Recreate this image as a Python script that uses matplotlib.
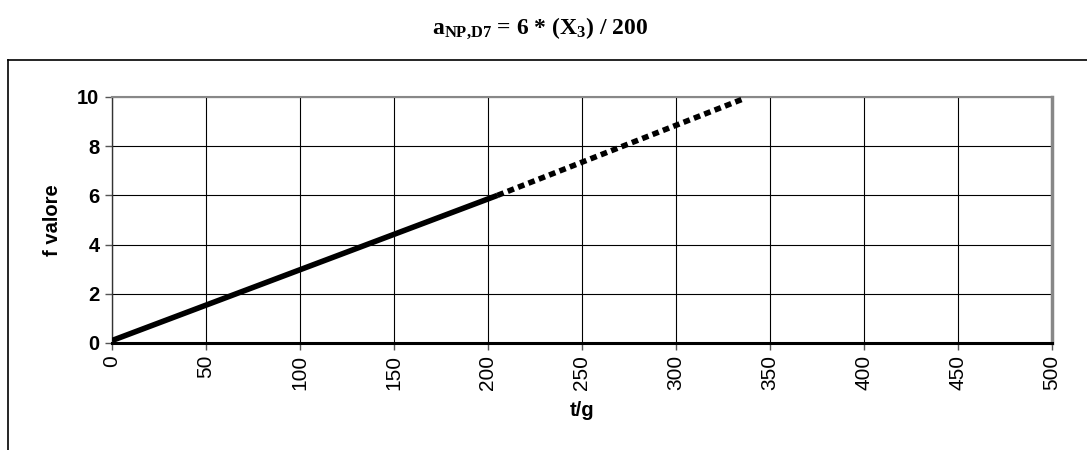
import matplotlib.pyplot as plt
from matplotlib.lines import Line2D

# data
solid_x = [0, 205]
solid_y = [0.1, 6.0]
dash_x = [205, 335]
dash_y = [6.0, 9.9]
xticks = [0, 50, 100, 150, 200, 250, 300, 350, 400, 450, 500]
yticks = [0, 2, 4, 6, 8, 10]

plt.rcParams['font.family'] = 'Liberation Sans'
plt.rcParams['mathtext.fontset'] = 'custom'
plt.rcParams['mathtext.rm'] = 'Liberation Serif:bold'
plt.rcParams['mathtext.it'] = 'Liberation Serif:bold'
plt.rcParams['mathtext.bf'] = 'Liberation Serif:bold'

W, H = 1087, 450
fig = plt.figure(figsize=(W / 100, H / 100), dpi=100)
ax = fig.add_axes([112 / W, 1 - 343 / H, (1052 - 112) / W, (343 - 97) / H])

# outer chart frame (cut off at right and bottom)
fig.add_artist(Line2D([8 / W, 8 / W], [0, 1 - 60 / H], color='black', lw=1.2))
fig.add_artist(Line2D([8 / W, 1], [1 - 60 / H, 1 - 60 / H], color='black', lw=1.2))

fig.text(540 / W, 1 - 28 / H, r'$\mathrm{a_{NP{,}D7}}$ = 6 * (X$_\mathrm{3}$) / 200',
         ha='center', va='center', fontsize=17,
         family='Liberation Serif', fontweight='bold')

ax.plot(solid_x, solid_y, color='black', lw=4, solid_capstyle='butt', zorder=3)
ax.plot(dash_x, dash_y, color='black', lw=4, linestyle=(0, (1.2, 0.8)),
        dash_capstyle='butt', zorder=3)

ax.set_xlim(0, 500)
ax.set_ylim(0, 10)
ax.set_xticks(xticks)
ax.set_yticks(yticks)
ax.set_xticklabels([str(v) for v in xticks], rotation=90, fontsize=15)
ax.set_yticklabels([str(v) for v in yticks], fontsize=14.5, fontweight='bold')
ax.grid(True, color='black', lw=0.8)
ax.set_axisbelow(True)

ax.spines['bottom'].set_linewidth(2.2)
ax.spines['bottom'].set_color('black')
ax.spines['left'].set_color('#333333')
ax.spines['left'].set_linewidth(1)
ax.spines['top'].set_color('#888888')
ax.spines['top'].set_linewidth(1.5)
ax.spines['right'].set_color('#888888')
ax.spines['right'].set_linewidth(2.5)
ax.tick_params(direction='out', length=5, width=1, color='#555555')
ax.tick_params(axis='y', pad=4)

ax.set_xlabel('t/g', fontsize=14.5, fontweight='bold', labelpad=8)
ax.set_ylabel('f valore', fontsize=14.5, fontweight='bold', labelpad=11)

fig.savefig('out.png', dpi=100)
